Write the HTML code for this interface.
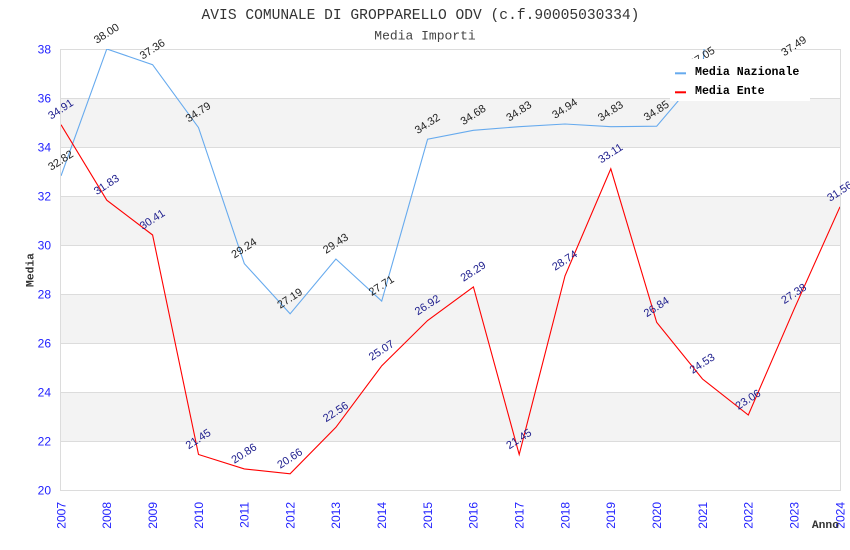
<!DOCTYPE html>
<html><head><meta charset="utf-8"><style>
html,body{margin:0;padding:0;background:#fff;}
svg{display:block;}
.t{font-family:"Liberation Mono","DejaVu Sans Mono",monospace;}
.tick{font-family:"Liberation Sans","DejaVu Sans",sans-serif;font-size:12px;fill:#2222ff;}
.ln{font-family:"Liberation Sans","DejaVu Sans",sans-serif;font-size:11px;fill:#222;}
.le{font-family:"Liberation Sans","DejaVu Sans",sans-serif;font-size:11px;fill:#1c1c8c;}
</style></head><body>
<svg width="850" height="550" viewBox="0 0 850 550" xmlns="http://www.w3.org/2000/svg">
<defs><clipPath id="pc"><rect x="61" y="49" width="779" height="441"/></clipPath></defs>
<rect x="0" y="0" width="850" height="550" fill="#fff"/>
<!-- bands -->
<rect x="61" y="98" width="779" height="49" fill="#f3f3f3"/>
<rect x="61" y="196" width="779" height="49" fill="#f3f3f3"/>
<rect x="61" y="294" width="779" height="49" fill="#f3f3f3"/>
<rect x="61" y="392" width="779" height="49" fill="#f3f3f3"/>
<!-- gridlines -->
<g stroke="#dcdcdc" stroke-width="1">
<line x1="61" y1="49.5" x2="840" y2="49.5"/>
<line x1="61" y1="98.5" x2="840" y2="98.5"/>
<line x1="61" y1="147.5" x2="840" y2="147.5"/>
<line x1="61" y1="196.5" x2="840" y2="196.5"/>
<line x1="61" y1="245.5" x2="840" y2="245.5"/>
<line x1="61" y1="294.5" x2="840" y2="294.5"/>
<line x1="61" y1="343.5" x2="840" y2="343.5"/>
<line x1="61" y1="392.5" x2="840" y2="392.5"/>
<line x1="61" y1="441.5" x2="840" y2="441.5"/>
<line x1="61" y1="490.5" x2="840" y2="490.5"/>
<line x1="60.5" y1="49" x2="60.5" y2="491"/>
<line x1="840.5" y1="49" x2="840.5" y2="491"/>
</g>
<!-- series -->
<g clip-path="url(#pc)" fill="none" stroke-width="1.1">
<polyline stroke="#66aaee" points="61,175.9 106.8,49 152.6,64.7 198.5,127.6 244.3,263.6 290.1,313.8 335.9,259 381.7,301.1 427.6,139.2 473.4,130.3 519.2,126.7 565,124 610.8,126.7 656.7,126.2 702.5,72.3 748.3,-600"/>
<polyline stroke="#ff0000" points="61,124.7 106.8,200.2 152.6,235 198.5,454.5 244.3,468.9 290.1,473.8 335.9,427.3 381.7,365.8 427.6,320.5 473.4,286.9 519.2,454.5 565,275.9 610.8,168.8 656.7,322.4 702.5,379 748.3,415 794.1,309.2 840,206.8"/>
</g>
<!-- value labels nazionale -->
<g class="ln" text-anchor="middle" dominant-baseline="central">
<text transform="translate(61,160.9) rotate(-33)">32.82</text>
<text transform="translate(106.8,34) rotate(-33)">38.00</text>
<text transform="translate(152.6,49.7) rotate(-33)">37.36</text>
<text transform="translate(198.5,112.6) rotate(-33)">34.79</text>
<text transform="translate(244.3,248.6) rotate(-33)">29.24</text>
<text transform="translate(290.1,298.8) rotate(-33)">27.19</text>
<text transform="translate(335.9,244) rotate(-33)">29.43</text>
<text transform="translate(381.7,286.1) rotate(-33)">27.71</text>
<text transform="translate(427.6,124.2) rotate(-33)">34.32</text>
<text transform="translate(473.4,115.3) rotate(-33)">34.68</text>
<text transform="translate(519.2,111.7) rotate(-33)">34.83</text>
<text transform="translate(565,109) rotate(-33)">34.94</text>
<text transform="translate(610.8,111.7) rotate(-33)">34.83</text>
<text transform="translate(656.7,111.2) rotate(-33)">34.85</text>
<text transform="translate(702.5,57.3) rotate(-33)">37.05</text>
<text transform="translate(794.1,46.5) rotate(-33)">37.49</text>
</g>
<!-- value labels ente -->
<g class="le" text-anchor="middle" dominant-baseline="central">
<text transform="translate(61,109.7) rotate(-33)">34.91</text>
<text transform="translate(106.8,185.2) rotate(-33)">31.83</text>
<text transform="translate(152.6,220) rotate(-33)">30.41</text>
<text transform="translate(198.5,439.5) rotate(-33)">21.45</text>
<text transform="translate(244.3,453.9) rotate(-33)">20.86</text>
<text transform="translate(290.1,458.8) rotate(-33)">20.66</text>
<text transform="translate(335.9,412.3) rotate(-33)">22.56</text>
<text transform="translate(381.7,350.8) rotate(-33)">25.07</text>
<text transform="translate(427.6,305.5) rotate(-33)">26.92</text>
<text transform="translate(473.4,271.9) rotate(-33)">28.29</text>
<text transform="translate(519.2,439.5) rotate(-33)">21.45</text>
<text transform="translate(565,260.9) rotate(-33)">28.74</text>
<text transform="translate(610.8,153.8) rotate(-33)">33.11</text>
<text transform="translate(656.7,307.4) rotate(-33)">26.84</text>
<text transform="translate(702.5,364) rotate(-33)">24.53</text>
<text transform="translate(748.3,400) rotate(-33)">23.06</text>
<text transform="translate(794.1,294.2) rotate(-33)">27.38</text>
<text transform="translate(840,191.8) rotate(-33)">31.56</text>
</g>
<!-- legend -->
<rect x="670" y="59" width="140" height="42" fill="#fff"/>
<rect x="675" y="72.3" width="11" height="2" fill="#66aaee"/>
<rect x="675" y="91.3" width="11" height="2" fill="#ff0000"/>
<text class="t" x="695" y="75" font-size="11.6" font-weight="bold" fill="#000">Media Nazionale</text>
<text class="t" x="695" y="94" font-size="11.6" font-weight="bold" fill="#000">Media Ente</text>
<!-- y ticks -->
<g class="tick" text-anchor="end">
<text x="51" y="53.5">38</text>
<text x="51" y="102.5">36</text>
<text x="51" y="151.5">34</text>
<text x="51" y="200.5">32</text>
<text x="51" y="249.5">30</text>
<text x="51" y="298.5">28</text>
<text x="51" y="347.5">26</text>
<text x="51" y="396.5">24</text>
<text x="51" y="445.5">22</text>
<text x="51" y="494.5">20</text>
</g>
<!-- x ticks -->
<g class="tick" text-anchor="end">
<text transform="translate(65.3,502) rotate(-90)">2007</text>
<text transform="translate(111.1,502) rotate(-90)">2008</text>
<text transform="translate(156.9,502) rotate(-90)">2009</text>
<text transform="translate(202.8,502) rotate(-90)">2010</text>
<text transform="translate(248.6,502) rotate(-90)">2011</text>
<text transform="translate(294.4,502) rotate(-90)">2012</text>
<text transform="translate(340.2,502) rotate(-90)">2013</text>
<text transform="translate(386,502) rotate(-90)">2014</text>
<text transform="translate(431.9,502) rotate(-90)">2015</text>
<text transform="translate(477.7,502) rotate(-90)">2016</text>
<text transform="translate(523.5,502) rotate(-90)">2017</text>
<text transform="translate(569.3,502) rotate(-90)">2018</text>
<text transform="translate(615.1,502) rotate(-90)">2019</text>
<text transform="translate(661,502) rotate(-90)">2020</text>
<text transform="translate(706.8,502) rotate(-90)">2021</text>
<text transform="translate(752.6,502) rotate(-90)">2022</text>
<text transform="translate(798.4,502) rotate(-90)">2023</text>
<text transform="translate(844.3,502) rotate(-90)">2024</text>
</g>
<!-- axis titles -->
<text class="t" x="839" y="528" text-anchor="end" font-size="11.3" font-weight="bold" fill="#333">Anno</text>
<text class="t" transform="translate(33.5,270) rotate(-90)" text-anchor="middle" font-size="11.3" font-weight="bold" fill="#333">Media</text>
<!-- titles -->
<text class="t" x="420.5" y="19" text-anchor="middle" font-size="14.6" fill="#333">AVIS COMUNALE DI GROPPARELLO ODV (c.f.90005030334)</text>
<text class="t" x="425" y="39.5" text-anchor="middle" font-size="13" fill="#444">Media Importi</text>
</svg>
</body></html>
